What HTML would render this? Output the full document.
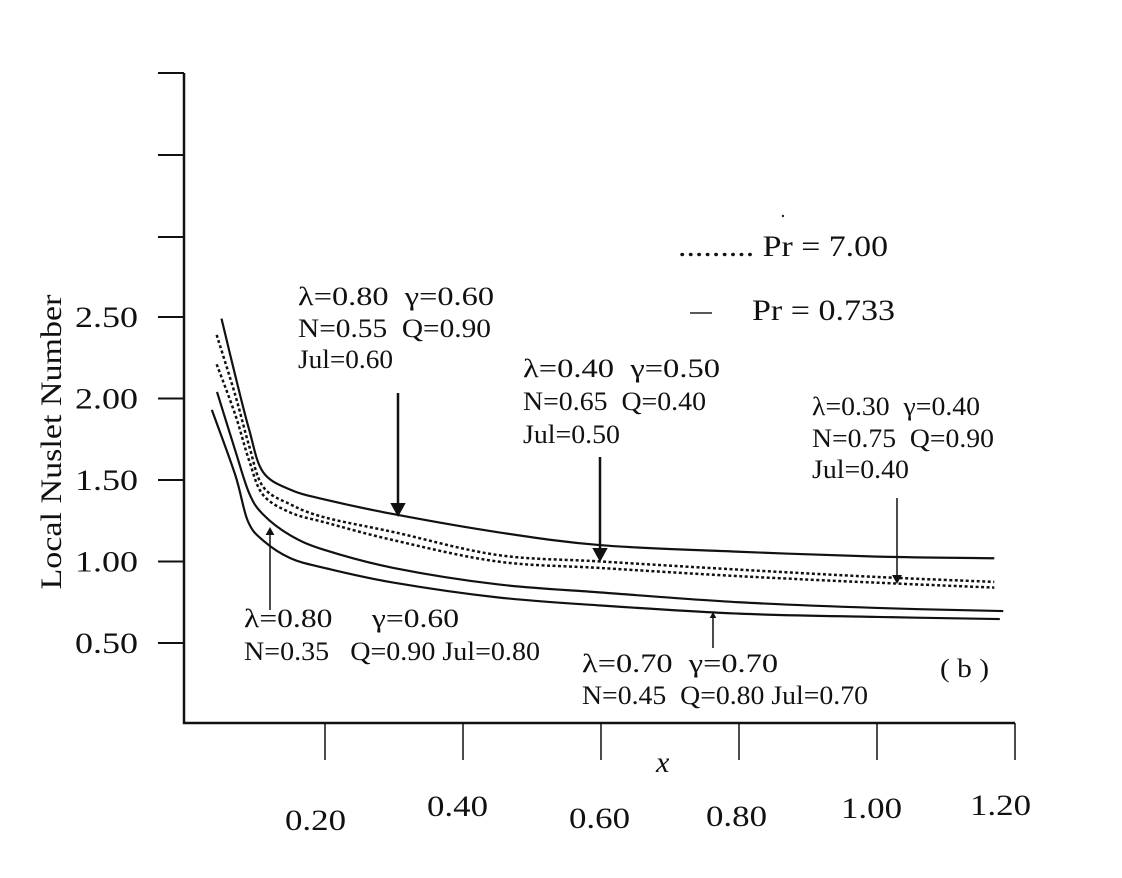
<!DOCTYPE html>
<html><head><meta charset="utf-8"><style>
body{margin:0;background:#fff;}
svg text{font-family:"Liberation Serif",serif;fill:#111;white-space:pre;}
</style></head><body>
<svg id="chart" width="1122" height="873" xmlns="http://www.w3.org/2000/svg">
<g id="axes"></g>
<g id="curves"></g>
<g id="ann" font-size="26">
<text x="298" y="305" textLength="196" lengthAdjust="spacingAndGlyphs">λ=0.80  γ=0.60</text>
<text x="298" y="337" textLength="193" lengthAdjust="spacingAndGlyphs">N=0.55  Q=0.90</text>
<text x="298" y="368" textLength="95" lengthAdjust="spacingAndGlyphs">Jul=0.60</text>
<text x="523" y="377" textLength="197" lengthAdjust="spacingAndGlyphs">λ=0.40  γ=0.50</text>
<text x="523" y="410" textLength="183" lengthAdjust="spacingAndGlyphs">N=0.65  Q=0.40</text>
<text x="523" y="443" textLength="97" lengthAdjust="spacingAndGlyphs">Jul=0.50</text>
<text x="812" y="415" textLength="168" lengthAdjust="spacingAndGlyphs">λ=0.30  γ=0.40</text>
<text x="812" y="447" textLength="182" lengthAdjust="spacingAndGlyphs">N=0.75  Q=0.90</text>
<text x="812" y="478" textLength="97" lengthAdjust="spacingAndGlyphs">Jul=0.40</text>
<text x="244" y="627" textLength="215" lengthAdjust="spacingAndGlyphs">λ=0.80     γ=0.60</text>
<text x="244" y="660" textLength="296" lengthAdjust="spacingAndGlyphs">N=0.35   Q=0.90 Jul=0.80</text>
<text x="582" y="672" textLength="196" lengthAdjust="spacingAndGlyphs">λ=0.70  γ=0.70</text>
<text x="582" y="704" textLength="286" lengthAdjust="spacingAndGlyphs">N=0.45  Q=0.80 Jul=0.70</text>
<text x="940" y="677" textLength="49" lengthAdjust="spacingAndGlyphs">( b )</text>
<text x="678" y="256" font-size="30" textLength="210" lengthAdjust="spacingAndGlyphs">......... Pr = 7.00</text>
<line x1="690" y1="313" x2="712" y2="313" stroke="#222" stroke-width="1.5"/>
<text x="752" y="320" font-size="30" textLength="143" lengthAdjust="spacingAndGlyphs">Pr = 0.733</text>
<circle cx="783" cy="216" r="1.2" fill="#222"/>
<text x="656" y="772" font-size="30" font-style="italic">x</text>
<text transform="translate(61,442) rotate(-90)" text-anchor="middle" font-size="30" textLength="295" lengthAdjust="spacingAndGlyphs">Local Nuslet Number</text>
</g>
</svg>
<script>
const yTicks=[0.5,1.0,1.5,2.0,2.5];
const yTickLabels=["0.50","1.00","1.50","2.00","2.50"];
const xTicks=[0.2,0.4,0.6,0.8,1.0,1.2];
const xTickLabels=["0.20","0.40","0.60","0.80","1.00","1.20"];
const xs1=[0.05,0.07,0.09,0.11,0.15,0.2,0.3,0.45,0.6,0.8,1.0,1.17];
const top1=[2.49,2.14,1.81,1.55,1.44,1.38,1.29,1.18,1.10,1.06,1.03,1.02];
const xs2=[0.043,0.07,0.09,0.11,0.15,0.2,0.3,0.45,0.6,0.8,1.0,1.17];
const dot1=[2.39,2.02,1.71,1.46,1.35,1.27,1.18,1.04,1.00,0.95,0.905,0.875];
const dot2=[2.21,1.90,1.62,1.41,1.30,1.24,1.13,1.00,0.96,0.91,0.87,0.84];
const xs3=[0.0435,0.07,0.09,0.11,0.15,0.2,0.3,0.45,0.6,0.8,1.0,1.183];
const sol3=[2.04,1.68,1.42,1.29,1.16,1.07,0.96,0.86,0.81,0.75,0.715,0.696];
const xs4=[0.036,0.07,0.088,0.11,0.15,0.2,0.3,0.45,0.6,0.8,1.0,1.178];
const sol4=[1.93,1.53,1.25,1.13,1.02,0.96,0.87,0.78,0.73,0.68,0.66,0.647];

const NS="http://www.w3.org/2000/svg";
const X=v=>187+v*690, Y=v=>643-(v-0.5)*163;
function mk(tag,attrs,parent){const e=document.createElementNS(NS,tag);for(const k in attrs)e.setAttribute(k,attrs[k]);parent.appendChild(e);return e;}
const ax=document.getElementById('axes');
let e;
e=mk('path',{d:'M184,73 V723 H1015',fill:'none',stroke:'#111','stroke-width':2.5},ax);


[73,155,237].forEach(y=>{const t=mk('line',{x1:158,x2:184,y1:y,y2:y,stroke:'#111','stroke-width':2},ax);

});
yTicks.forEach((v,i)=>{const t=mk('line',{x1:158,x2:184,y1:Y(v),y2:Y(v),stroke:'#111','stroke-width':2},ax);


const l=mk('text',{x:75,y:Y(v)+10,'font-size':30,textLength:63,lengthAdjust:'spacingAndGlyphs'},ax);l.textContent=yTickLabels[i];

});
const xOff=[[-10,820],[-6,806],[-2,818],[-3,816],[-6,808],[-15,805]];
xTicks.forEach((v,i)=>{const t=mk('line',{x1:X(v),x2:X(v),y1:723,y2:760,stroke:'#111','stroke-width':1.5},ax);


const l=mk('text',{x:X(v)+xOff[i][0]-30,y:xOff[i][1]+10,'font-size':30,textLength:61,lengthAdjust:'spacingAndGlyphs'},ax);l.textContent=xTickLabels[i];

});
function path(xs,ys){const p=xs.map((x,i)=>[X(x),Y(ys[i])]);let d='M'+p[0][0]+','+p[0][1];
for(let i=0;i<p.length-1;i++){const p0=p[i-1]||p[i],p1=p[i],p2=p[i+1],p3=p[i+2]||p2;
const c1=[p1[0]+(p2[0]-p0[0])/6,p1[1]+(p2[1]-p0[1])/6],c2=[p2[0]-(p3[0]-p1[0])/6,p2[1]-(p3[1]-p1[1])/6];
d+=` C${c1[0]},${c1[1]} ${c2[0]},${c2[1]} ${p2[0]},${p2[1]}`;}return d;}
const cg=document.getElementById('curves');
[[xs1,top1,'curve-top',0],[xs2,dot1,'curve-dotted-1',1],[xs2,dot2,'curve-dotted-2',1],[xs3,sol3,'curve-solid-3',0],[xs4,sol4,'curve-solid-4',0]].forEach(s=>{
const c=mk('path',{d:path(s[0],s[1]),fill:'none',stroke:'#111','stroke-width':s[3]?2.5:2.2},cg);
if(s[3])c.setAttribute('stroke-dasharray','3,2.5');

});
function arrow(x,y1,y2,w,h,name){const dir=y2>y1?1:-1;
const a=mk('line',{x1:x,x2:x,y1:y1,y2:y2-dir*h,stroke:'#111','stroke-width':w},cg);


const hd=mk('polygon',{points:`${x-h*0.55},${y2-dir*h} ${x+h*0.55},${y2-dir*h} ${x},${y2}`,fill:'#111'},cg);

}
arrow(398,393,517,2.5,14,'arrow-top');
arrow(600,457,562,2.5,14,'arrow-mid');
arrow(897,498,584,1.5,9,'arrow-right');
arrow(270,610,527,1.5,8,'arrow-bottom-left');
arrow(713,648,612,1.5,6,'arrow-bottom-right');
</script>
</body></html>
